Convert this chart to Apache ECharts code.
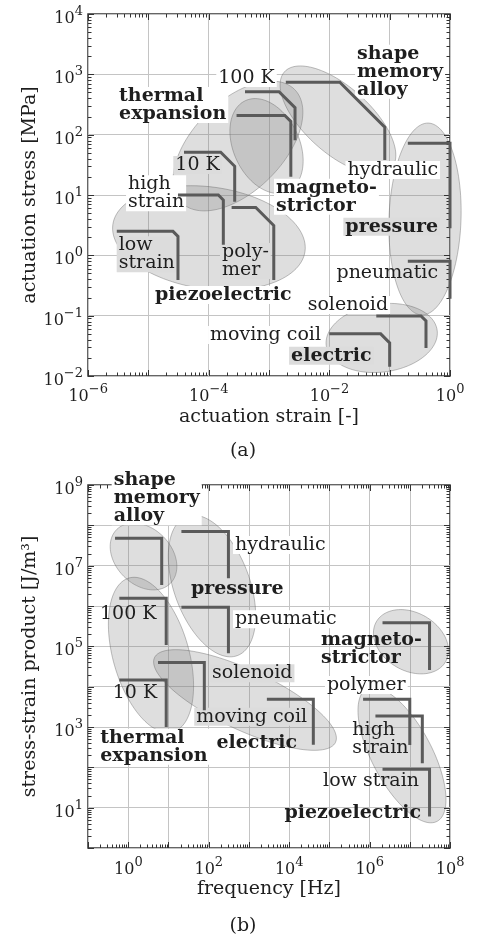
<!DOCTYPE html>
<html><head><meta charset="utf-8">
<script src="https://cdn.jsdelivr.net/npm/echarts@6/dist/echarts.min.js"></script>
<style>html,body{margin:0;padding:0;background:#fff}#c{width:486px;height:941px}</style>
</head><body><div id="c"></div>
<script>
// ---------- Panel (a): actuation stress [MPa] vs actuation strain [-] ----------
const actuatorsA = ['thermal expansion 100 K','magnetostrictor','thermal expansion 10 K','piezoelectric high strain','piezoelectric low strain','piezoelectric polymer','shape memory alloy','hydraulic','pneumatic','solenoid','moving coil'];
const strainMinA = [4.0e-4, 2.9e-4, 3.9e-5, 3.1e-5, 3.0e-6, 2.4e-4, 1.9e-3, 0.2, 0.2, 0.06, 0.010];
const strainMaxA = [2.7e-3, 2.3e-3, 2.7e-4, 1.75e-4, 3.1e-5, 1.2e-3, 0.083, 1, 1, 0.40, 0.10];
const stressMaxA = [515, 208, 51, 10, 2.5, 6.2, 740, 72, 0.80, 0.099, 0.050];
const stressMinA = [81, 20, 7.7, 1.5, 0.39, 0.39, 38, 2.8, 0.19, 0.029, 0.0143];

const regionsA = ['thermal expansion','magnetostrictor','shape memory alloy','piezoelectric','pressure','electric'];
const regionCxA = [3.06e-4, 9.1e-4, 0.0139, 1.01e-4, 0.385, 0.0738];
const regionCyA = [64.9, 64.9, 175, 1.94, 4.0, 0.0427];
const regionMajorA = [1.326, 0.829, 1.193, 1.608, 1.591, 0.928];   // decades
const regionMinorA = [0.746, 0.547, 0.547, 0.845, 0.597, 0.564];   // decades
const regionTiltA = [45, -65, -42, -8, 88, 8];                     // degrees

// ---------- Panel (b): stress-strain product [J/m^3] vs frequency [Hz] ----------
const actuatorsB = ['shape memory alloy','hydraulic','pneumatic','thermal expansion 100 K','thermal expansion 10 K','solenoid','moving coil','magnetostrictor','piezoelectric polymer','piezoelectric high strain','piezoelectric low strain'];
const freqMinB = [0.47, 21, 21, 0.6, 0.6, 5.5, 2.8e3, 2.1e6, 6.9e5, 1.4e6, 2.1e6];
const freqMaxB = [6.8, 310, 310, 8.8, 8.8, 78, 4.0e4, 3.1e7, 1.0e7, 2.05e7, 3.1e7];
const productMaxB = [4.8e7, 7.0e7, 9.3e5, 1.55e6, 1.46e4, 4.0e4, 4.9e3, 3.85e5, 4.9e3, 1.87e3, 89];
const productMinB = [3.3e6, 4.9e6, 6.7e4, 1.08e5, 1.0e3, 2.6e3, 364, 2.6e4, 357, 126, 6.0];

const regionsB = ['shape memory alloy','thermal expansion','pressure','electric','magnetostrictor','piezoelectric'];
const regionCxB = [2.4, 3.68, 121, 800, 1.07e7, 6.4e6];
const regionCyB = [1.69e7, 6.1e4, 3.13e6, 4.67e3, 1.3e5, 202];
const regionMajorB = [0.944, 1.986, 1.837, 2.483, 0.993, 1.862];
const regionMinorB = [0.695, 0.943, 0.943, 0.745, 0.72, 0.745];
const regionTiltB = [-45, -74, -70, -25, -30, -62];

// axis ranges
const strainRange = [1e-6, 1];
const stressRange = [1e-2, 1e4];
const freqRange = [1e-1, 1e8];
const productRange = [1, 1e9];

// ---------- annotation text (anchored in data coordinates) ----------
const W = '#ffffff', G = 'rgb(220,220,220)', N = null;
const labelsA = [
  {t:'thermal\nexpansion', x:3.03e-6, y:310, a:'left', b:1, bg:W},
  {t:'100 K', x:4.24e-4, y:869, a:'center', bg:W},
  {t:'10 K', x:6.53e-5, y:31.4, a:'center', bg:G},
  {t:'high\nstrain', x:4.27e-6, y:10.7, a:'left', bg:W},
  {t:'low\nstrain', x:2.99e-6, y:1.04, a:'left', bg:G},
  {t:'poly-\nmer', x:1.54e-4, y:0.805, a:'left', bg:G},
  {t:'piezoelectric', x:1.75e-4, y:0.22, a:'center', b:1, bg:W},
  {t:'magneto-\nstrictor', x:1.21e-3, y:9.37, a:'left', b:1, bg:W},
  {t:'shape\nmemory\nalloy', x:0.0267, y:1106, a:'left', b:1, bg:W},
  {t:'hydraulic', x:0.684, y:25.9, a:'right', bg:W},
  {t:'pressure', x:0.684, y:2.98, a:'right', b:1, bg:G},
  {t:'pneumatic', x:0.684, y:0.504, a:'right', bg:N},
  {t:'solenoid', x:0.0203, y:0.150, a:'center', bg:W},
  {t:'moving coil', x:7.85e-3, y:0.0478, a:'right', bg:W},
  {t:'electric', x:0.0108, y:0.0217, a:'center', b:1, bg:G}
];
const labelsB = [
  {t:'shape\nmemory\nalloy', x:0.388, y:4.68e8, a:'left', b:1, bg:W},
  {t:'hydraulic', x:403, y:3.25e7, a:'left', bg:W},
  {t:'pressure', x:515, y:2.59e6, a:'center', b:1, bg:N},
  {t:'pneumatic', x:403, y:4.68e5, a:'left', bg:W},
  {t:'magneto-\nstrictor', x:5.53e4, y:8.34e4, a:'left', b:1, bg:N},
  {t:'polymer', x:8.3e5, y:1.1e4, a:'center', bg:W},
  {t:'solenoid', x:108, y:2.14e4, a:'left', bg:G},
  {t:'moving coil', x:1175, y:1.8e3, a:'center', bg:G},
  {t:'electric', x:1564, y:394, a:'center', b:1, bg:N},
  {t:'10 K', x:1.47, y:6.84e3, a:'center', bg:N},
  {t:'100 K', x:1.0, y:6.33e5, a:'center', bg:N},
  {t:'thermal\nexpansion', x:0.18, y:324, a:'left', b:1, bg:W},
  {t:'high\nstrain', x:3.33e5, y:489, a:'left', bg:N},
  {t:'low strain', x:1.9e7, y:45.8, a:'right', bg:N},
  {t:'piezoelectric', x:2.13e7, y:7.24, a:'right', b:1, bg:N}
];
// corner chamfer (pixels) of each actuator's L-shaped range line
const bevelA = [16, 6, 14, 5, 5, 18, 45, 0, 0, 5, 9];
const bevelB = [0, 0, 0, 0, 0, 0, 0, 0, 0, 0, 0];

// ---------- styling & helpers ----------
const SERIF = '"DejaVu Serif", "Liberation Serif", serif';
const TXT = '#1e1e1e';
const LINE = '#5a5a5a';

function ellipseRender(params, api) {
  const cx = Math.log10(api.value(0)), cy = Math.log10(api.value(1));
  const a = api.value(2), b = api.value(3), th = api.value(4) * Math.PI / 180;
  const pts = [];
  const n = 120;
  for (let k = 0; k < n; k++) {
    const t = k / n * 2 * Math.PI;
    const ex = a * Math.cos(t), ey = b * Math.sin(t);
    const dx = ex * Math.cos(th) - ey * Math.sin(th);
    const dy = ex * Math.sin(th) + ey * Math.cos(th);
    pts.push(api.coord([Math.pow(10, cx + dx), Math.pow(10, cy + dy)]));
  }
  return {type: 'polygon', shape: {points: pts},
    style: {fill: 'rgba(128,128,128,0.26)', stroke: 'rgba(90,90,90,0.38)', lineWidth: 1}};
}

function makeRangeRender(bevels) {
  return function (params, api) {
    const p1 = api.coord([api.value(0), api.value(1)]);
    const pc = api.coord([api.value(2), api.value(1)]);
    const p3 = api.coord([api.value(2), api.value(3)]);
    const bv = bevels[params.dataIndex] || 0;
    const pts = bv > 0 ? [p1, [pc[0] - bv, pc[1]], [pc[0], pc[1] + bv], p3] : [p1, pc, p3];
    return {type: 'polyline', shape: {points: pts},
      style: {stroke: LINE, lineWidth: 3, fill: null, lineJoin: 'miter'}};
  };
}

function makeLabelRender(list) {
  return function (params, api) {
    const L = list[params.dataIndex];
    const p = api.coord([api.value(0), api.value(1)]);
    return {type: 'text', x: p[0], y: p[1],
      style: {text: L.t, fill: TXT, font: (L.b ? 'bold ' : '') + '19px ' + SERIF,
        align: L.a, verticalAlign: 'middle', lineHeight: 18,
        backgroundColor: L.bg || 'transparent', padding: [0, 2, 0, 2]}};
  };
}

function makeTickRender(xr, yr) {
  const xd0 = Math.round(Math.log10(xr[0])), xd1 = Math.round(Math.log10(xr[1]));
  const yd0 = Math.round(Math.log10(yr[0])), yd1 = Math.round(Math.log10(yr[1]));
  return function (params, api) {
    const cs = params.coordSys;
    const left = cs.x, top = cs.y, right = cs.x + cs.width, bottom = cs.y + cs.height;
    const ch = [];
    const seg = (x1, y1, x2, y2) => ch.push({type: 'line', shape: {x1, y1, x2, y2}, style: {stroke: '#333', lineWidth: 1}});
    for (let d = xd0; d <= xd1; d++) {
      for (let m = 1; m <= 9; m++) {
        if (d === xd1 && m > 1) break;
        const px = Math.round(api.coord([m * Math.pow(10, d), yr[0]])[0]) + 0.5;
        const len = m === 1 ? 6 : 3.5;
        seg(px, bottom, px, bottom - len); seg(px, top, px, top + len);
      }
    }
    for (let d = yd0; d <= yd1; d++) {
      for (let m = 1; m <= 9; m++) {
        if (d === yd1 && m > 1) break;
        const py = Math.round(api.coord([xr[0], m * Math.pow(10, d)])[1]) + 0.5;
        const len = m === 1 ? 6 : 3.5;
        seg(left, py, left + len, py); seg(right, py, right - len, py);
      }
    }
    return {type: 'group', children: ch};
  };
}

const tickRich = {
  p: {fontSize: 1, lineHeight: 22},
  b: {fontFamily: SERIF, fontSize: 16, color: TXT, lineHeight: 18, verticalAlign: 'bottom'},
  s: {fontFamily: SERIF, fontSize: 13, color: TXT, lineHeight: 14, verticalAlign: 'top'}
};
function powFormatter(keep) {
  return function (v) {
    const e = Math.round(Math.log10(v));
    if (!keep(e)) return '';
    return '{p| }{b|10}{s|' + (e < 0 ? '\u2212' + (-e) : e) + '}';
  };
}
const nameStyle = {fontFamily: SERIF, fontSize: 19, color: TXT};
function logAxis(gridIndex, range, keep, name, gap, margin) {
  return {
    type: 'log', logBase: 10, gridIndex, min: range[0], max: range[1],
    name, nameLocation: 'middle', nameGap: gap, nameTextStyle: nameStyle, nameMoveOverlap: false,
    axisLine: {show: false}, axisTick: {show: false}, minorTick: {show: false},
    splitLine: {show: true, lineStyle: {color: '#c4c4c4', width: 1}},
    axisLabel: {formatter: powFormatter(keep), rich: tickRich, margin, padding: [4, 0, 0, 0],
      showMinLabel: true, showMaxLabel: true, hideOverlap: false}
  };
}

const chart = echarts.init(document.getElementById('c'), null, {renderer: 'canvas'});
chart.setOption({
  animation: false,
  backgroundColor: '#fff',
  grid: [
    {left: 88, top: 14, width: 362, height: 362, show: true, borderColor: '#333', borderWidth: 1.5, containLabel: false, outerBoundsMode: 'none'},
    {left: 88, top: 485, width: 362, height: 363, show: true, borderColor: '#333', borderWidth: 1.5, containLabel: false, outerBoundsMode: 'none'}
  ],
  xAxis: [
    logAxis(0, strainRange, e => e % 2 === 0, 'actuation strain [-]', 32, 3),
    logAxis(1, freqRange, e => e >= 0 && e % 2 === 0, 'frequency [Hz]', 32, 4)
  ],
  yAxis: [
    logAxis(0, stressRange, e => true, 'actuation stress [MPa]', 48, 5),
    logAxis(1, productRange, e => Math.abs(e % 2) === 1, 'stress-strain product [J/m\u00B3]', 48, 5)
  ],
  graphic: [
    {type: 'text', left: 'center', top: 442, style: {text: '(a)', font: '19px ' + SERIF, fill: TXT}},
    {type: 'text', left: 'center', top: 917, style: {text: '(b)', font: '19px ' + SERIF, fill: TXT}}
  ],
  series: [
    {type: 'custom', name: 'regions (a)', xAxisIndex: 0, yAxisIndex: 0, renderItem: ellipseRender, encode: {x: 0, y: 1},
      data: regionsA.map((r, i) => [regionCxA[i], regionCyA[i], regionMajorA[i], regionMinorA[i], regionTiltA[i]])},
    {type: 'custom', name: 'ticks (a)', xAxisIndex: 0, yAxisIndex: 0, renderItem: makeTickRender(strainRange, stressRange), encode: {x: 0, y: 1},
      data: [[strainRange[0], stressRange[0]]], silent: true},
    {type: 'custom', name: 'labels (a)', xAxisIndex: 0, yAxisIndex: 0, renderItem: makeLabelRender(labelsA), encode: {x: 0, y: 1},
      data: labelsA.map(l => [l.x, l.y])},
    {type: 'custom', name: 'actuators (a)', xAxisIndex: 0, yAxisIndex: 0, renderItem: makeRangeRender(bevelA), encode: {x: [0, 2], y: [1, 3]},
      data: actuatorsA.map((n, i) => [strainMinA[i], stressMaxA[i], strainMaxA[i], stressMinA[i]])},

    {type: 'custom', name: 'regions (b)', xAxisIndex: 1, yAxisIndex: 1, renderItem: ellipseRender, encode: {x: 0, y: 1},
      data: regionsB.map((r, i) => [regionCxB[i], regionCyB[i], regionMajorB[i], regionMinorB[i], regionTiltB[i]])},
    {type: 'custom', name: 'ticks (b)', xAxisIndex: 1, yAxisIndex: 1, renderItem: makeTickRender(freqRange, productRange), encode: {x: 0, y: 1},
      data: [[freqRange[0], productRange[0]]], silent: true},
    {type: 'custom', name: 'labels (b)', xAxisIndex: 1, yAxisIndex: 1, renderItem: makeLabelRender(labelsB), encode: {x: 0, y: 1},
      data: labelsB.map(l => [l.x, l.y])},
    {type: 'custom', name: 'actuators (b)', xAxisIndex: 1, yAxisIndex: 1, renderItem: makeRangeRender(bevelB), encode: {x: [0, 2], y: [1, 3]},
      data: actuatorsB.map((n, i) => [freqMinB[i], productMaxB[i], freqMaxB[i], productMinB[i]])}
  ]
});
</script></body></html>
